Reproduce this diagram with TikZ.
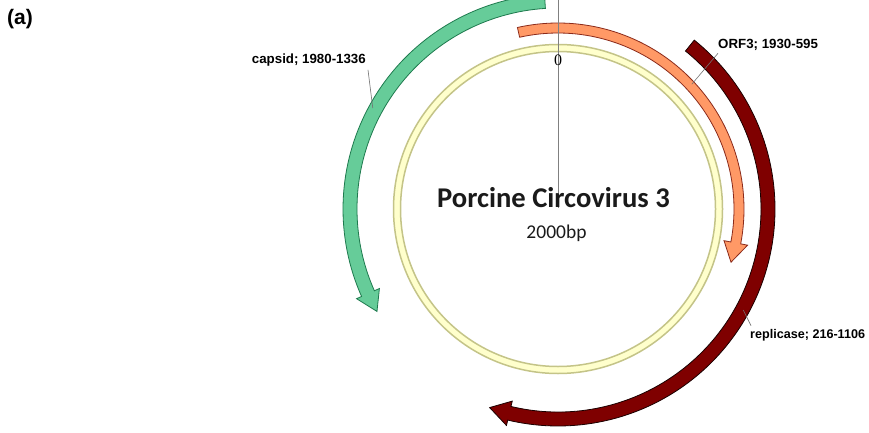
\documentclass[tikz,border=0pt]{standalone}
\usepackage{fontspec}
\setmainfont{Liberation Serif}
\newfontfamily\lblfont{Liberation Sans}
\newfontfamily\titlefont{Carlito}
\definecolor{orffill}{HTML}{FF9966}
\definecolor{orfdraw}{HTML}{8B2A1A}
\definecolor{capfill}{HTML}{66CC99}
\definecolor{capdraw}{HTML}{1E7A4E}
\definecolor{repfill}{HTML}{7F0000}
\definecolor{repdraw}{HTML}{1A0000}
\definecolor{ringfill}{HTML}{FFFFCC}
\definecolor{ringdraw}{HTML}{C4C488}
\definecolor{txtdark}{HTML}{1A1A1A}
% #1 style, #2 radius, #3 half band, #4 half head, #5 start angle, #6 head base angle, #7 tip angle
\newcommand\genearc[7]{%
  \path[#1] (#5:{#2+#3}) arc[start angle=#5, end angle=#6, radius={#2+#3}]
    -- (#6:{#2+#4}) -- (#7:#2) -- (#6:{#2-#4}) -- (#6:{#2-#3})
    arc[start angle=#6, end angle=#5, radius={#2-#3}] -- cycle;}
\begin{document}
\begin{tikzpicture}[x=1pt,y=1pt,
  lbl/.style={font=\lblfont\bfseries\fontsize{13.3}{15}\selectfont, inner sep=0pt, text=black},
  leader/.style={draw=black!55, line width=0.6pt},
  orfstyle/.style={fill=orffill, draw=orfdraw, line width=0.8pt},
  capstyle/.style={fill=capfill, draw=capdraw, line width=0.8pt},
  repstyle/.style={fill=repfill, draw=repdraw, line width=0.8pt}]
\useasboundingbox (0,0) rectangle (869,-433);
\clip (0,0) rectangle (869,-433);
\fill[white] (0,0) rectangle (869,-433);
\begin{scope}[shift={(558,-209)}]
  % genome ring
  \fill[ringfill, even odd rule] (0,0) circle[radius=164.5] (0,0) circle[radius=157.5];
  \draw[ringdraw, line width=1.5pt] (0,0) circle[radius=164.5];
  \draw[ringdraw, line width=1.5pt] (0,0) circle[radius=157.5];
  % genes
  \genearc{capstyle}{208}{7}{12.5}{93.6}{204}{209.5}
  \genearc{orfstyle}{181}{5}{12}{102.6}{-10.8}{-17.1}
  \genearc{repstyle}{210}{7}{12.5}{51.1}{-103.4}{-109}
  % leader anchor points
  \coordinate (cappt) at (151.4:211);
  \coordinate (orfpt) at (43:183);
  \coordinate (reppt) at (-28.6:211);
\end{scope}
% zero marker
\coordinate (ztop) at (558,0);
\coordinate (zcen) at (558,-208);
\draw[black!50, line width=0.7pt] (ztop) -- (zcen);
\node[font=\fontsize{16}{18}\selectfont, inner sep=0pt] (zero) at (558,-60) {0};
% title
\node[font=\titlefont\bfseries\fontsize{28.6}{32}\selectfont, text=txtdark, anchor=base, inner sep=0pt] (title) at (553.5,-207) {Porcine Circovirus 3};
\node[font=\titlefont\fontsize{19.5}{22}\selectfont, text=txtdark, anchor=base, inner sep=0pt] (size) at (556.5,-238) {2000bp};
% labels
\node[lbl, anchor=base east] (caplbl) at (366,-64) {capsid; 1980-1336};
\node[lbl, anchor=base west] (orflbl) at (718,-49) {ORF3; 1930-595};
\node[lbl, font=\lblfont\bfseries\fontsize{12.6}{15}\selectfont, anchor=base west] (replbl) at (750,-338) {replicase; 216-1106};
\draw[leader] ([shift={(2,-3)}]caplbl.south east) -- (cappt);
\draw[leader] ([shift={(0,-2)}]orflbl.south west) -- (orfpt);
\draw[leader] ([shift={(1,3)}]replbl.north west) -- (reppt);
% panel tag
\node[font=\lblfont\bfseries\fontsize{21}{23}\selectfont, anchor=base west, inner sep=0pt] (tag) at (7,-25) {(a)};
\end{tikzpicture}
\end{document}
